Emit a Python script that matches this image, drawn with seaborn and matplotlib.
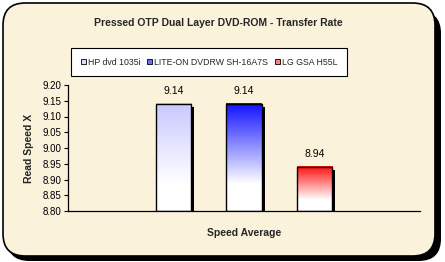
import numpy as np
import pandas as pd
import matplotlib
matplotlib.use("Agg")
import matplotlib.pyplot as plt
import seaborn as sns
from matplotlib.patches import FancyBboxPatch, Patch, Rectangle
from matplotlib.colors import LinearSegmentedColormap
import matplotlib.transforms as mtransforms

category = ["Speed Average"]
drives = ["HP dvd 1035i", "LITE-ON DVDRW SH-16A7S", "LG GSA H55L"]
speeds = [9.14, 9.14, 8.94]
top_colors = ["#c8c8ff", "#1010ff", "#ff1010"]
legend_colors = ["#dcdcff", "#6f6fff", "#ff8080"]
yticks = [8.80, 8.85, 8.90, 8.95, 9.00, 9.05, 9.10, 9.15, 9.20]

sns.set_theme(style="white")
plt.rcParams['font.family'] = ['Liberation Sans', 'DejaVu Sans']

W, H = 445, 262
fig = plt.figure(figsize=(W / 100, H / 100), dpi=100)
fig.patch.set_facecolor("white")

bg = "#fbf2dc"
fig.patches.append(FancyBboxPatch((7 / W, 1 / H), 434 / W, 250 / H,
                                  boxstyle="round,pad=0,rounding_size=0.05",
                                  transform=fig.transFigure, facecolor="black",
                                  edgecolor="black", lw=0, zorder=-3,
                                  mutation_aspect=W / H))
fig.patches.append(FancyBboxPatch((3 / W, 6 / H), 432 / W, 253 / H,
                                  boxstyle="round,pad=0,rounding_size=0.05",
                                  transform=fig.transFigure, facecolor=bg,
                                  edgecolor="black", lw=1.2, zorder=-2,
                                  mutation_aspect=W / H))

ax = fig.add_axes([68 / W, (H - 211) / H, (420 - 68) / W, (211 - 85) / H])
ax.set_facecolor("none")
ax.patch.set_alpha(0)

df = pd.DataFrame({"cat": category * 3, "drive": drives, "speed": speeds})
sns.barplot(data=df, x="cat", y="speed", hue="drive", hue_order=drives,
            palette=top_colors, width=0.6, gap=0.5, ax=ax, legend=False,
            edgecolor="black", linewidth=1.0, zorder=3)

ax.set_ylim(8.80, 9.20)
ax.set_xlim(-0.5, 0.5)

shadow_tr = mtransforms.offset_copy(ax.transData, fig=fig, x=3, y=-3, units='dots')
for bar, col, val in zip(list(ax.patches), top_colors, speeds):
    x0, w = bar.get_x(), bar.get_width()
    y0, h = 8.80, val - 8.80
    bar.set_y(y0)
    bar.set_height(h)
    bar.set_facecolor("none")
    sh = Rectangle((x0, y0), w, h, transform=shadow_tr, facecolor="black",
                   edgecolor="none", zorder=2, clip_on=True)
    ax.add_patch(sh)
    cmap = LinearSegmentedColormap.from_list("g", [(0, "white"), (0.25, "white"), (1, col)])
    grad = np.linspace(0, 1, 256).reshape(-1, 1)
    ax.imshow(grad, cmap=cmap, aspect="auto", origin="lower",
              extent=[x0, x0 + w, y0, y0 + h], zorder=2.5)
    ax.text(x0 + w / 2, val + 0.025, f"{val:.2f}", ha="center", va="bottom",
            fontsize=7.5, color="black")

ax.set_ylim(8.80, 9.20)
ax.set_xlim(-0.5, 0.5)
ax.set_yticks(yticks)
ax.set_yticklabels([f"{v:.2f}" for v in yticks])
ax.set_xticks([])
ax.tick_params(axis="y", direction="out", length=3, width=0.8, colors="black",
               labelsize=7, pad=2, left=True)
for s in ["top", "right"]:
    ax.spines[s].set_visible(False)
for s in ["left", "bottom"]:
    ax.spines[s].set_color("black")
    ax.spines[s].set_linewidth(0.9)
    ax.spines[s].set_zorder(4)

ax.set_xlabel("Speed Average", fontsize=7.5, fontweight="bold", labelpad=12)
ax.set_ylabel("Read Speed X", fontsize=7.5, fontweight="bold", labelpad=6)

fig.text(218 / W, 1 - 23 / H, "Pressed OTP Dual Layer DVD-ROM - Transfer Rate",
         ha="center", va="center", fontsize=7.5, fontweight="bold")

handles = [Patch(facecolor=c, edgecolor="black", lw=0.6) for c in legend_colors]
leg = fig.legend(handles, drives, loc="center", bbox_to_anchor=(209 / W, 1 - 62 / H),
                 ncol=3, frameon=True, fontsize=6.3, handlelength=0.6, handleheight=0.6,
                 handletextpad=0.2, columnspacing=0.8, borderpad=1.1, fancybox=False)
leg.get_frame().set_edgecolor("black")
leg.get_frame().set_linewidth(0.8)
leg.get_frame().set_facecolor("white")
leg.get_frame().set_alpha(1)

fig.savefig("out.png", dpi=100)
